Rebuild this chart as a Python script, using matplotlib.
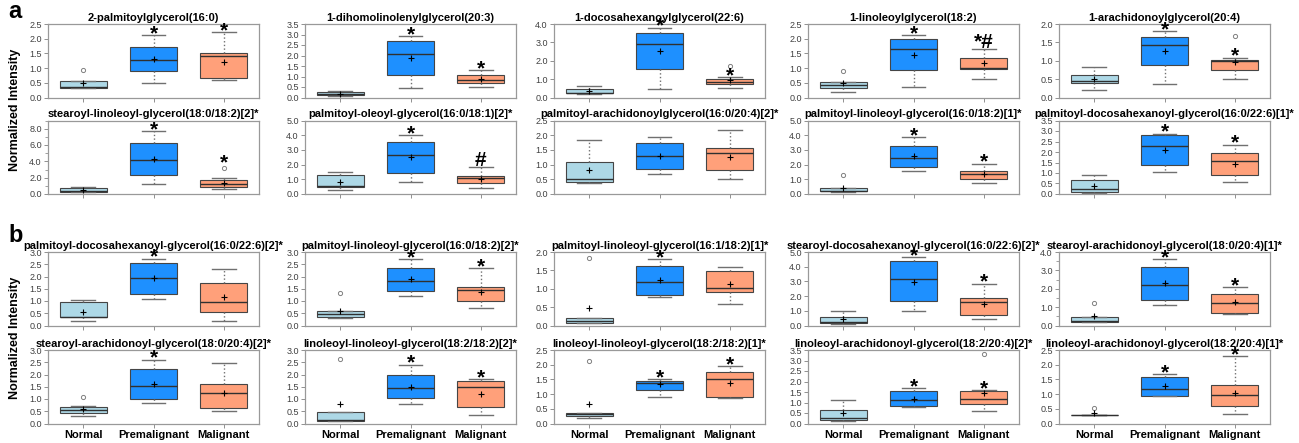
import matplotlib.pyplot as plt
from matplotlib.ticker import MultipleLocator, FormatStrFormatter

plt.rcParams['font.family'] = ['Liberation Sans', 'DejaVu Sans']

groups = ['Normal', 'Premalignant', 'Malignant']
colors = ['#ADD8E6', '#1E90FF', '#FFA07A']

titles = [
    '2-palmitoylglycerol(16:0)', '1-dihomolinolenylglycerol(20:3)',
    '1-docosahexanoylglycerol(22:6)', '1-linoleoylglycerol(18:2)',
    '1-arachidonoylglycerol(20:4)',
    'stearoyl-linoleoyl-glycerol(18:0/18:2)[2]*', 'palmitoyl-oleoyl-glycerol(16:0/18:1)[2]*',
    'palmitoyl-arachidonoylglycerol(16:0/20:4)[2]*', 'palmitoyl-linoleoyl-glycerol(16:0/18:2)[1]*',
    'palmitoyl-docosahexanoyl-glycerol(16:0/22:6)[1]*',
    'palmitoyl-docosahexanoyl-glycerol(16:0/22:6)[2]*', 'palmitoyl-linoleoyl-glycerol(16:0/18:2)[2]*',
    'palmitoyl-linoleoyl-glycerol(16:1/18:2)[1]*', 'stearoyl-docosahexanoyl-glycerol(16:0/22:6)[2]*',
    'stearoyl-arachidonoyl-glycerol(18:0/20:4)[1]*',
    'stearoyl-arachidonoyl-glycerol(18:0/20:4)[2]*', 'linoleoyl-linoleoyl-glycerol(18:2/18:2)[2]*',
    'linoleoyl-linoleoyl-glycerol(18:2/18:2)[1]*', 'linoleoyl-arachidonoyl-glycerol(18:2/20:4)[2]*',
    'linoleoyl-arachidonoyl-glycerol(18:2/20:4)[1]*',
]
y_max = [2.5, 3.5, 4.0, 2.5, 2.0, 9.0, 5.0, 2.5, 5.0, 3.5,
         3.0, 3.0, 2.0, 5.0, 4.0, 3.0, 3.0, 2.5, 3.5, 2.5]
y_step = [0.5, 0.5, 1.0, 0.5, 0.5, 2.0, 1.0, 0.5, 1.0, 0.5,
          0.5, 0.5, 0.5, 1.0, 1.0, 0.5, 0.5, 0.5, 0.5, 0.5]
minor_step = [None] * 5 + [1.0] + [None] * 8 + [0.5] + [None] * 5

# per panel: (Normal, Premalignant, Malignant)
whislo = [(.31, .49, .58), (.08, .45, .49), (.20, .44, .51), (.19, .37, .62), (.20, .38, .51),
          (.20, 1.25, .63), (.28, .83, .41), (.36, .67, .52), (.15, 1.57, .76), (.05, 1.05, .55),
          (.20, 1.10, .20), (.30, 1.19, .70), (.06, .78, .58), (.12, 1.00, .44), (.17, 1.11, .61),
          (.30, .85, .50), (.10, .80, .33), (.18, .91, .88), (.11, .80, .59), (.30, .93, .31)]
q1 = [(.32, .89, .68), (.10, 1.05, .68), (.22, 1.56, .71), (.32, .93, .98), (.39, .89, .76),
      (.29, 2.33, .88), (.51, 1.45, .76), (.40, .84, .81), (.18, 1.87, 1.01), (.08, 1.37, .90),
      (.33, 1.30, .57), (.33, 1.39, .99), (.08, .84, .90), (.16, 1.64, .74), (.19, 1.39, .69),
      (.41, 1.02, .65), (.11, 1.05, .67), (.25, 1.13, .91), (.19, .84, .91), (.30, .94, .60)]
med = [(.36, 1.28, 1.42), (.15, 2.08, .83), (.26, 2.93, .87), (.41, 1.65, 1.02), (.46, 1.44, .99),
       (.35, 4.17, 1.25), (.55, 2.63, 1.06), (.50, 1.30, 1.38), (.23, 2.46, 1.38), (.22, 2.28, 1.59),
       (.35, 1.93, .97), (.45, 1.82, 1.44), (.13, 1.19, 1.01), (.25, 3.15, 1.62), (.22, 2.22, 1.20),
       (.57, 1.52, 1.23), (.14, 1.43, 1.47), (.31, 1.38, 1.50), (.25, 1.11, 1.18), (.30, 1.19, .97)]
q3 = [(.55, 1.72, 1.51), (.26, 2.67, 1.07), (.45, 3.51, 1.00), (.52, 1.98, 1.36), (.61, 1.65, 1.03),
      (.75, 6.25, 1.75), (1.27, 3.57, 1.24), (1.08, 1.75, 1.56), (.39, 3.29, 1.59), (.65, 2.83, 1.95),
      (.95, 2.55, 1.74), (.59, 2.33, 1.59), (.20, 1.63, 1.49), (.56, 4.38, 1.85), (.45, 3.20, 1.74),
      (.68, 2.23, 1.60), (.45, 1.96, 1.72), (.35, 1.44, 1.75), (.62, 1.53, 1.57), (.30, 1.57, 1.31)]
whishi = [(.57, 2.12, 2.22), (.33, 2.91, 1.30), (.65, 3.80, 1.09), (.53, 2.12, 1.65), (.82, 1.81, 1.08),
          (.90, 7.71, 2.00), (1.52, 3.99, 1.84), (1.83, 1.94, 2.16), (.40, 3.85, 2.07), (.92, 2.87, 2.35),
          (1.05, 2.72, 2.32), (.60, 2.70, 2.33), (.21, 1.81, 1.58), (.97, 4.65, 2.85), (.46, 3.61, 2.09),
          (.70, 2.60, 2.47), (.46, 2.40, 1.80), (.36, 1.50, 1.95), (1.10, 1.67, 1.59), (.30, 1.68, 2.28)]
means = [(.51, 1.30, 1.22), (.16, 1.86, .87), (.38, 2.51, .93), (.48, 1.45, 1.16), (.49, 1.27, .96),
         (.50, 4.29, 1.40), (.81, 2.51, 1.04), (.82, 1.30, 1.26), (.44, 2.60, 1.36), (.40, 2.09, 1.45),
         (.57, 1.92, 1.16), (.61, 1.89, 1.38), (.48, 1.24, 1.13), (.46, 2.99, 1.46), (.50, 2.30, 1.26),
         (.61, 1.62, 1.24), (.78, 1.51, 1.19), (.65, 1.33, 1.38), (.48, 1.19, 1.43), (.36, 1.27, 1.05)]
fliers = [([.95], [], []), ([], [], []), ([], [], [1.69]), ([.91], [], []), ([], [], [1.67]),
          ([], [], [3.21]), ([], [], []), ([], [], []), ([1.27], [], []), ([], [], []),
          ([], [], []), ([1.31], [], []), ([1.85], [], []), ([], [], []), ([1.20], [], []),
          ([1.09], [], []), ([2.62], [], []), ([2.12], [], []), ([], [], [3.29]), ([.53], [], [])]
marks = [('', '*', '*'), ('', '*', '*'), ('', '*', '*'), ('', '*', '*#'), ('', '*', '*'),
         ('', '*', '*'), ('', '*', '#'), ('', '', ''), ('', '*', '*'), ('', '*', '*'),
         ('', '*', ''), ('', '*', '*'), ('', '*', ''), ('', '*', '*'), ('', '*', '*'),
         ('', '*', ''), ('', '*', '*'), ('', '*', '*'), ('', '*', '*'), ('', '*', '*')]
mark_over_flier = {(5, 2)}

fig = plt.figure(figsize=(12.99, 4.43), dpi=100)
FW, FH = 1299, 443
col_left = [48, 305, 554, 808, 1059]
row_top = [24, 120.5, 252, 350]
W, H = 211, 73.5

for i in range(20):
    r, c = i // 5, i % 5
    ax = fig.add_axes([col_left[c] / FW, 1 - (row_top[r] + H) / FH, W / FW, H / FH])
    stats = [dict(whislo=whislo[i][g], q1=q1[i][g], med=med[i][g], q3=q3[i][g],
                  whishi=whishi[i][g], mean=means[i][g], fliers=fliers[i][g]) for g in range(3)]
    bp = ax.bxp(stats, positions=[1, 2, 3], widths=0.67, patch_artist=True, showmeans=True,
                boxprops=dict(edgecolor='#454545', linewidth=0.8),
                medianprops=dict(color='#303030', linewidth=1.0),
                whiskerprops=dict(color='#707070', linestyle=':', linewidth=1.0),
                capprops=dict(color='#707070', linewidth=1.0),
                meanprops=dict(marker='+', markeredgecolor='black', markersize=4, markeredgewidth=0.8),
                flierprops=dict(marker='o', markerfacecolor='none', markeredgecolor='#808080',
                                markersize=3, markeredgewidth=0.7))
    for patch, col in zip(bp['boxes'], colors):
        patch.set_facecolor(col)

    ax.set_xlim(0.5, 3.5)
    ax.set_ylim(0, y_max[i])
    ax.yaxis.set_major_locator(MultipleLocator(y_step[i]))
    ax.yaxis.set_major_formatter(FormatStrFormatter('%.1f'))
    if minor_step[i]:
        ax.yaxis.set_minor_locator(MultipleLocator(minor_step[i]))
        ax.tick_params(axis='y', which='minor', length=2, width=0.6, color='#909090')
    ax.set_xticks([1, 2, 3])
    if r == 3:
        ax.set_xticklabels(groups, fontsize=8, fontweight='bold')
    else:
        ax.set_xticklabels([])
    ax.tick_params(axis='both', which='major', length=3, width=0.7, color='#909090', pad=1.5)
    ax.tick_params(axis='y', labelsize=6.5, labelcolor='#404040')
    for s in ax.spines.values():
        s.set_color('#999999')
        s.set_linewidth(0.9)
    ax.set_title(titles[i], fontsize=8, fontweight='bold', pad=2.5)

    for g, m in enumerate(marks[i]):
        if not m:
            continue
        base = whishi[i][g]
        off = 1 if '#' in m else -4
        if (i, g) in mark_over_flier:
            base = max(fliers[i][g])
            off += 3
        ax.annotate(m, (g + 1, base), xytext=(0, off), textcoords='offset pixels',
                    ha='center', va='baseline', fontsize=15, fontweight='bold',
                    annotation_clip=False)

fig.text(15 / FW, 1 - 110 / FH, 'Normalized Intensity', rotation=90, fontsize=9,
         fontweight='bold', ha='center', va='center')
fig.text(15 / FW, 1 - 338 / FH, 'Normalized Intensity', rotation=90, fontsize=9,
         fontweight='bold', ha='center', va='center')
fig.text(8 / FW, 1 - 12 / FH, 'a', fontsize=17, fontweight='bold', ha='left', va='center')
fig.text(8 / FW, 1 - 236 / FH, 'b', fontsize=17, fontweight='bold', ha='left', va='center')

fig.savefig('out.png', dpi=100)
